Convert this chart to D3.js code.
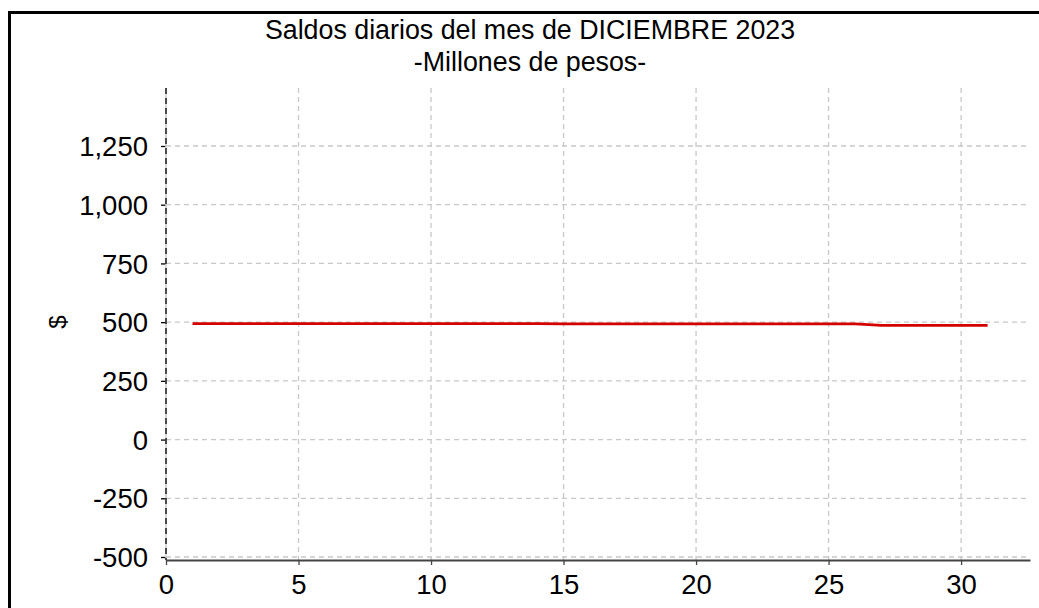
<!DOCTYPE html>
<html><head><meta charset="utf-8">
<script src="https://cdn.jsdelivr.net/npm/d3@7"></script>
<style>body{margin:0;background:#fff}svg{display:block}text{font-family:"Liberation Sans",Arial,sans-serif}</style>
</head><body>
<svg id="c" width="1039" height="608"></svg>
<script>
const titleLines = ["Saldos diarios del mes de DICIEMBRE 2023", "-Millones de pesos-"];
const yLabel = "$";
const days = [1,2,3,4,5,6,7,8,9,10,11,12,13,14,15,16,17,18,19,20,21,22,23,24,25,26,27,28,29,30,31];
const saldos = [494,494,494,494,494,494,494,494,494,494,494,494,494,494,493,493,493,493,493,493,493,493,493,493,493,493,486,486,486,486,486];
const xTicks = [0,5,10,15,20,25,30];
const yTicks = [-500,-250,0,250,500,750,1000,1250];

const svg = d3.select("#c");
const x = d3.scaleLinear().domain([0, 32.6]).range([166, 1030]);
const y = d3.scaleLinear().domain([-500, 1250]).range([557, 146]);
const yTop = y.invert(88), yBot = y.invert(560);
const fmt = d => d3.format(",")(d).replace("\u2212", "-");

// frame
svg.append("rect").attr("x", 9.5).attr("y", 12.5).attr("width", 1200).attr("height", 800)
  .attr("fill", "none").attr("stroke", "#000").attr("stroke-width", 3);

// title
svg.selectAll("text.title").data(titleLines).join("text").attr("class", "title")
  .attr("x", 530).attr("y", (d, i) => 39 + i * 32).attr("text-anchor", "middle")
  .attr("font-size", 26.8).attr("fill", "#000").text(d => d);

// grid
svg.append("g").selectAll("line").data(xTicks).join("line")
  .attr("x1", d => x(d)).attr("x2", d => x(d)).attr("y1", y(yTop)).attr("y2", y(yBot))
  .attr("stroke", "#c8c8c8").attr("stroke-width", 1.3).attr("stroke-dasharray", "5,4");
svg.append("g").selectAll("line").data(yTicks).join("line")
  .attr("x1", x(0)).attr("x2", x(32.6)).attr("y1", d => y(d)).attr("y2", d => y(d))
  .attr("stroke", "#c8c8c8").attr("stroke-width", 1.3).attr("stroke-dasharray", "5,4");

// y axis
const yAxis = d3.axisLeft(y).tickValues(yTicks).tickSize(5).tickPadding(13).tickFormat(fmt);
const gy = svg.append("g").attr("transform", `translate(${x(0)},0)`).call(yAxis);
gy.select(".domain").remove();
gy.selectAll(".tick line").attr("stroke", "#000").attr("stroke-width", 1.3);
gy.selectAll(".tick text").attr("font-size", 27.5).attr("fill", "#000").attr("font-family", "Liberation Sans, Arial, sans-serif").attr("dy", "0.35em");
svg.append("line").attr("x1", x(0)).attr("x2", x(0)).attr("y1", y(yTop)).attr("y2", y(yBot))
  .attr("stroke", "#d0d0d0").attr("stroke-width", 1.5);
svg.append("line").attr("x1", x(0)).attr("x2", x(0)).attr("y1", y(yTop)).attr("y2", y(yBot))
  .attr("stroke", "#000").attr("stroke-width", 1.3).attr("stroke-dasharray", "6,4");

// x axis
const xAxis = d3.axisBottom(x).tickValues(xTicks).tickSize(5).tickPadding(9).tickSizeOuter(0);
const gx = svg.append("g").attr("transform", `translate(0,${y(yBot)})`).call(xAxis);
gx.select(".domain").attr("stroke", "#444").attr("stroke-width", 2);
gx.selectAll(".tick line").attr("stroke", "#444").attr("stroke-width", 1.3);
gx.selectAll(".tick text").attr("font-size", 27.5).attr("fill", "#000").attr("font-family", "Liberation Sans, Arial, sans-serif");

// y label
svg.append("text").attr("transform", `translate(66,${y(500)}) rotate(-90)`).attr("text-anchor", "middle")
  .attr("font-size", 24).attr("fill", "#000").text(yLabel);

// line
const line = d3.line().x((d, i) => x(days[i])).y(d => y(d));
svg.append("path").datum(saldos).attr("d", line).attr("fill", "none")
  .attr("stroke", "#d40000").attr("stroke-width", 2.8);
</script>
</body></html>
